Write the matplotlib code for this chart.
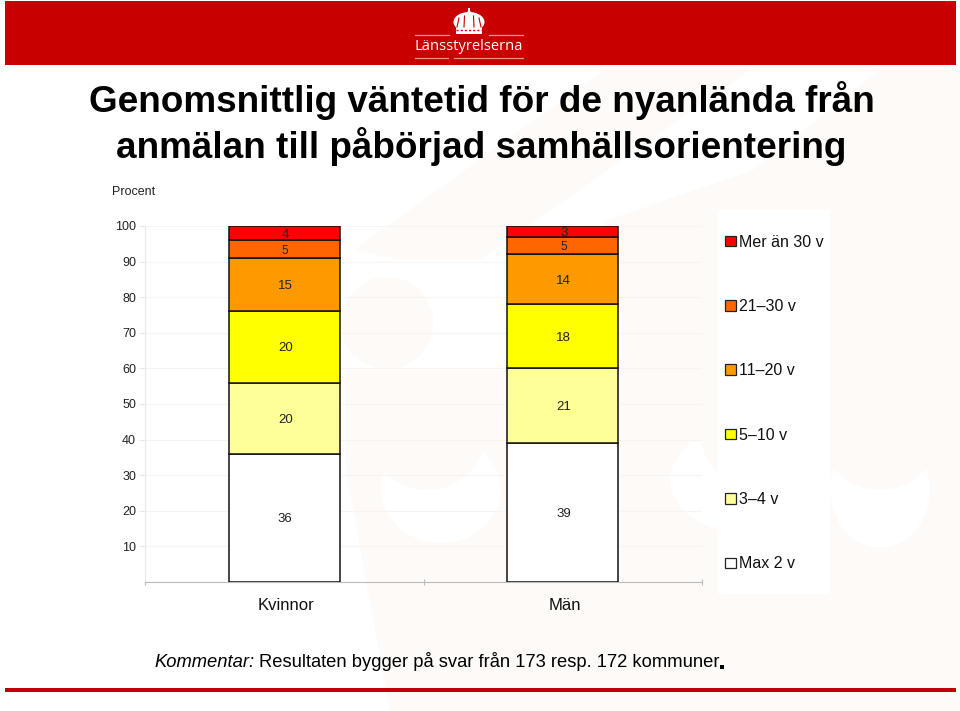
import matplotlib
matplotlib.use("Agg")
import matplotlib.pyplot as plt
from matplotlib.patches import Rectangle, Polygon, Ellipse, Circle
from matplotlib.legend_handler import HandlerPatch

plt.rcParams['font.family'] = ['Liberation Sans', 'DejaVu Sans']

categories = ["Kvinnor", "Män"]
series_names = ["Max 2 v", "3–4 v", "5–10 v", "11–20 v", "21–30 v", "Mer än 30 v"]
colors = ["#FFFFFF", "#FFFF99", "#FFFF00", "#FF9900", "#FF6600", "#FF0000"]
max2 = [36, 39]
v3_4 = [20, 21]
v5_10 = [20, 18]
v11_20 = [15, 14]
v21_30 = [5, 5]
over30 = [4, 3]
series_values = [max2, v3_4, v5_10, v11_20, v21_30, over30]
label_sizes = [9.5, 9.5, 9.5, 9.5, 8.5, 9.5]
yticks = [10, 20, 30, 40, 50, 60, 70, 80, 90, 100]

W, H = 960, 711
fig = plt.figure(figsize=(W / 100, H / 100), dpi=100, facecolor="white")

# Page decoration layer in pixel coordinates
bg = fig.add_axes([0, 0, 1, 1], zorder=0)
bg.set_xlim(0, W); bg.set_ylim(H, 0); bg.axis("off")
pale = "#FDFAF8"
bg.add_patch(Polygon([(346, 470), (390, 711), (960, 711), (960, 70), (880, 70), (753, 170),
                      (608, 220), (505, 370), (345, 370)], closed=True, fc=pale, ec="none"))
bg.add_patch(Polygon([(354, 250), (604, 70), (750, 70), (480, 260), (400, 260)], closed=True,
                     fc=pale, ec="none"))
bg.add_patch(Circle((387, 323), 46, fc=pale, ec="none"))
for (cx, cy, w, h), (px, py) in zip([(441, 490, 120, 106), (745, 480, 150, 106), (880, 490, 100, 115)],
                                    [(427, 430), (760, 430), (880, 430)]):
    bg.add_patch(Ellipse((cx, cy), w, h, fc="white", ec="none"))
    bg.add_patch(Circle((px, py), 60, fc=pale, ec="none"))
bg.add_patch(Rectangle((718, 210), 112, 384, fc="white", ec="none"))
bg.add_patch(Rectangle((5, 1), 951, 64, fc="#C80000", ec="none"))
bg.add_patch(Rectangle((5, 688), 951, 4, fc="#C00008", ec="none"))
# Crown logo
crown = "white"
red = "#C80000"
bg.add_patch(Ellipse((469, 22), 31, 20, fc=crown, ec="none"))
bg.add_patch(Rectangle((456, 27), 26, 7, fc=crown, ec="none"))
bg.add_patch(Rectangle((468.2, 8), 1.6, 6, fc=crown, ec="none"))
bg.add_patch(Circle((469, 13), 2.2, fc=crown, ec="none"))
bg.plot([459, 457], [18, 27], color=red, lw=0.8)
bg.plot([464.5, 464], [16, 27], color=red, lw=0.8)
bg.plot([473.5, 474], [16, 27], color=red, lw=0.8)
bg.plot([479, 481], [18, 27], color=red, lw=0.8)
bg.plot([456, 482], [29.5, 29.5], color=red, lw=1.0, ls=(0, (1.5, 1.5)))
for x0, x1, y in [(415, 449, 35), (489, 523, 35), (415, 448, 58), (454, 523, 58)]:
    bg.plot([x0, x1], [y, y], color="#F0908C", lw=0.9)
bg.text(469, 47, "Länsstyrelserna", color="white", fontsize=10.6, ha="center", va="center",
        family=["Open Sans", "DejaVu Sans"])

# Title and other text
bg.text(481.5, 101, "Genomsnittlig väntetid för de nyanlända från", fontsize=26.6, fontweight="bold",
        ha="center", va="center", color="black")
bg.text(481.5, 146, "anmälan till påbörjad samhällsorientering", fontsize=26.6, fontweight="bold",
        ha="center", va="center", color="black")
bg.text(112, 192, "Procent", fontsize=9, ha="left", va="center", color="#222222")
bg.text(154, 667, "Kommentar:", fontsize=13.2, style="italic", ha="left", va="baseline")
bg.text(259, 667, "Resultaten bygger på svar från 173 resp. 172 kommuner", fontsize=13.2, ha="left", va="baseline")
bg.add_patch(Rectangle((720, 665), 4, 4, fc="black", ec="none"))

# Chart
left, right, top, bottom = 145, 702, 226, 582
ax = fig.add_axes([left / W, 1 - bottom / H, (right - left) / W, (bottom - top) / H], zorder=1)
ax.patch.set_alpha(0)
positions = [0.5, 1.5]
cum = [0, 0]
handles = []
for name, vals, col, ls in zip(series_names, series_values, colors, label_sizes):
    bars = ax.bar(positions, vals, width=0.4, bottom=cum, color=col, edgecolor="#111111",
                  linewidth=1.1, label=name, zorder=3)
    handles.append(bars[0])
    for p, v, c in zip(positions, vals, cum):
        ax.annotate(str(v), (p, c + v / 2), xytext=(0.7, -1), textcoords="offset points",
                    ha="center", va="center", fontsize=ls, color="#222222", zorder=4)
    cum = [c + v for c, v in zip(cum, vals)]

ax.set_xlim(0, 2)
ax.set_ylim(0, 100)
ax.set_xticks([0, 1, 2])
ax.set_xticklabels([])
ax.set_yticks(yticks)
ax.set_yticklabels([str(t) for t in yticks], fontsize=9, color="#222222")
ax.tick_params(axis="y", length=4, width=0.8, color="#E8E8E8", pad=2.5, direction="out")
ax.tick_params(axis="x", length=4, width=0.8, color="#BBBBBB", direction="inout")
ax.grid(axis="y", color="#F7F4F2", lw=0.8, zorder=0)
ax.set_axisbelow(True)
for s in ("top", "right"):
    ax.spines[s].set_visible(False)
ax.spines["left"].set_color("#E8E8E8")
ax.spines["bottom"].set_color("#BBBBBB")
for p, c in zip(positions, categories):
    ax.annotate(c, (p, 0), xytext=(1.2, -17), textcoords="offset points", ha="center", va="center",
                fontsize=12, color="#111111", annotation_clip=False)

class SquareHandler(HandlerPatch):
    def create_artists(self, legend, orig, xd, yd, w, h, fontsize, trans):
        s = 7.6
        p = Rectangle((w - s, (h - s) / 2 - yd), s, s, fc=orig.get_facecolor(),
                      ec="#222222", lw=0.9, transform=trans)
        return [p]

leg = ax.legend(handles[::-1], series_names[::-1], loc="center left",
                bbox_to_anchor=(725 / W, 1 - 403 / H), bbox_transform=fig.transFigure,
                frameon=False, fontsize=11.5, labelspacing=3.09, handlelength=0.67, handletextpad=0.22,
                borderpad=0, borderaxespad=0,
                handler_map={h: SquareHandler() for h in handles})
for t in leg.get_texts():
    t.set_color("#111111")

fig.savefig("out.png", dpi=100)
